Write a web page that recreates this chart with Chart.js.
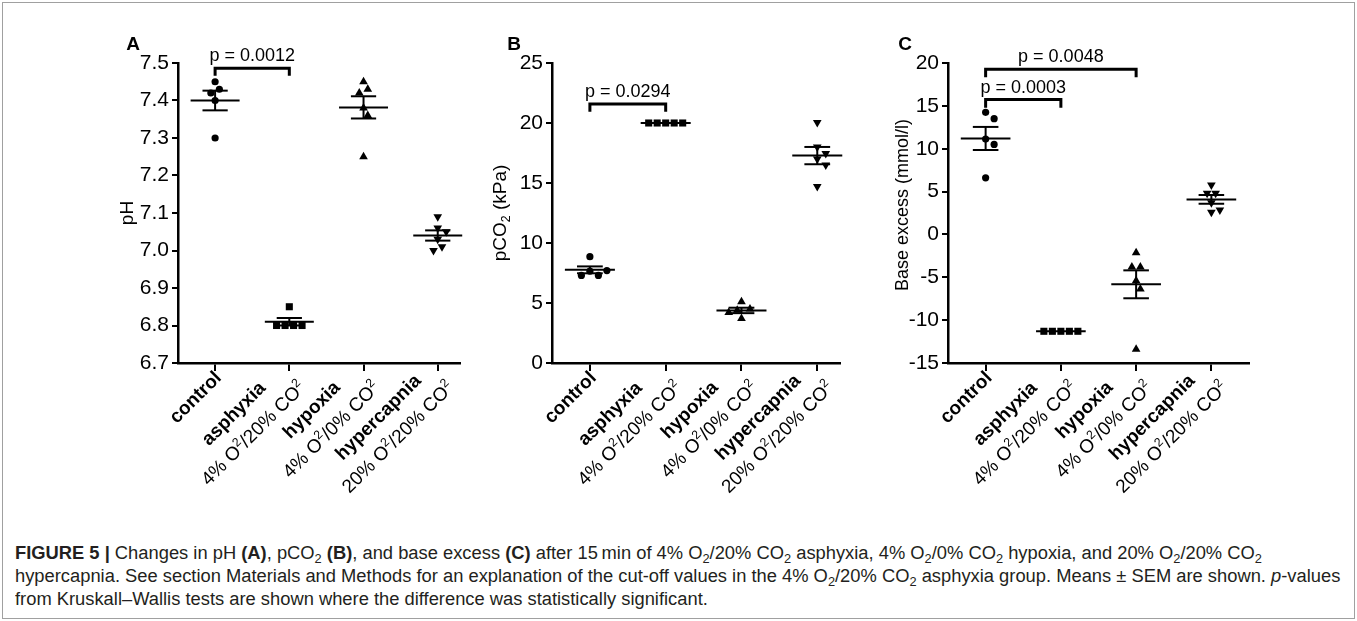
<!DOCTYPE html>
<html>
<head>
<meta charset="utf-8">
<script src="https://cdn.jsdelivr.net/npm/chart.js@4"></script>
<style>
  html, body { margin: 0; padding: 0; background: #fff; }
  body { width: 1357px; height: 621px; position: relative; overflow: hidden; font-family: "Liberation Sans", Arial, sans-serif; }
  #frame { position: absolute; left: 2px; top: 2px; width: 1351px; height: 615px; border: 1px solid #a0a0a0; }
  .panel { position: absolute; top: 0; height: 530px; }
  #caption { position: absolute; left: 15px; top: 542px; font-family: "Liberation Sans Narrow", "Liberation Sans", Arial, sans-serif; font-size: 18px; line-height: 23px; color: #231f20; white-space: nowrap; transform-origin: 0 0; }
  #caption sub { font-size: 70%; vertical-align: -0.3em; line-height: 0; }
</style>
</head>
<body>
<div id="frame"></div>
<div class="panel" id="wrapA"><canvas id="chartA"></canvas></div>
<div class="panel" id="wrapB"><canvas id="chartB"></canvas></div>
<div class="panel" id="wrapC"><canvas id="chartC"></canvas></div>
<div id="caption">
  <div id="cap1"><b>FIGURE 5 |</b> Changes in pH <b>(A)</b>, pCO<sub>2</sub> <b>(B)</b>, and base excess <b>(C)</b> after 15&thinsp;min of 4% O<sub>2</sub>/20% CO<sub>2</sub> asphyxia, 4% O<sub>2</sub>/0% CO<sub>2</sub> hypoxia, and 20% O<sub>2</sub>/20% CO<sub>2</sub></div>
  <div id="cap2">hypercapnia. See section Materials and Methods for an explanation of the cut-off values in the 4% O<sub>2</sub>/20% CO<sub>2</sub> asphyxia group. Means ± SEM are shown. <i>p</i>-values</div>
  <div id="cap3">from Kruskall–Wallis tests are shown where the difference was statistically significant.</div>
</div>
<script>
// groepen en labels
const groups = ['control', 'asphyxia', 'hypoxia', 'hypercapnia'];
const gasLabels = ['', '4% O₂/20% CO₂', '4% O₂/0% CO₂', '20% O₂/20% CO₂'];

// pH (A)
const phControl = [7.45, 7.43, 7.42, 7.40, 7.30];
const phAsphyxia = [6.85, 6.80, 6.80, 6.80, 6.80];
const phHypoxia = [7.45, 7.43, 7.42, 7.38, 7.36, 7.25];
const phHypercapnia = [7.09, 7.06, 7.05, 7.03, 7.01, 7.00];
const phTicks = [6.7, 6.8, 6.9, 7.0, 7.1, 7.2, 7.3, 7.4, 7.5];

// pCO2 (B)
const pco2Control = [8.86, 7.65, 7.30, 7.30, 7.70];
const pco2Asphyxia = [20, 20, 20, 20, 20];
const pco2Hypoxia = [5.1, 4.5, 4.4, 4.2, 3.7];
const pco2Hypercapnia = [20.05, 18.0, 17.45, 17.0, 16.5, 14.7];
const pco2Ticks = [0, 5, 10, 15, 20, 25];

// base excess (C)
const beControl = [14.25, 13.5, 11.13, 10.5, 6.6];
const beAsphyxia = [-11.3, -11.3, -11.3, -11.3, -11.3];
const beHypoxia = [-2.15, -3.8, -3.8, -5.4, -6.37, -13.4];
const beHypercapnia = [5.78, 4.8, 4.8, 3.7, 2.6, 2.85];
const beTicks = [-15, -10, -5, 0, 5, 10, 15, 20];

// p-waarden
const pLabelsA = ['p = 0.0012'];
const pPairsA = [[0, 1]];
const pLevelsA = [[7.486, 7.466]];
const pLabelsB = ['p = 0.0294'];
const pPairsB = [[0, 1]];
const pLevelsB = [[21.58, 20.94]];
const pLabelsC = ['p = 0.0003', 'p = 0.0048'];
const pPairsC = [[0, 1], [0, 2]];
const pLevelsC = [[15.74, 14.77], [19.26, 18.35]];

const FONT = '"Liberation Sans", Arial, sans-serif';
const pointStyles = ['circle', 'rect', 'triangle', 'triangle'];
const pointRot = [0, 0, 0, 180];
const pointRad = [3.6, 5, 5, 5];

// tekst met subscript/superscript 2
function richWidth(ctx, text, weight, size) {
  const parts = text.split('₂');
  let w = 0;
  parts.forEach((p, k) => {
    ctx.font = `${weight} ${size}px ${FONT}`;
    w += ctx.measureText(p).width;
    if (k < parts.length - 1) {
      ctx.font = `${weight} ${size * 0.65}px ${FONT}`;
      w += ctx.measureText('2').width;
    }
  });
  return w;
}

function drawRich(ctx, text, x, y, weight, size, shift) {
  const parts = text.split('₂');
  let cx = x;
  parts.forEach((p, k) => {
    ctx.font = `${weight} ${size}px ${FONT}`;
    ctx.fillText(p, cx, y);
    cx += ctx.measureText(p).width;
    if (k < parts.length - 1) {
      ctx.font = `${weight} ${size * 0.65}px ${FONT}`;
      ctx.fillText('2', cx, y + size * shift);
      cx += ctx.measureText('2').width;
    }
  });
}

// beeswarm spreiding (in pixels, omgerekend naar categorie-eenheden)
function swarm(vals, ppv, ppc, d) {
  const placed = [];
  const offs = vals.map((v) => {
    const py = v * ppv;
    for (let k = 0; k < 40; k++) {
      const cand = (k % 2 ? 1 : -1) * Math.ceil(k / 2) * d / 2;
      if (placed.every((p) => Math.hypot(p.x - cand, p.y - py) >= d - 0.01)) {
        placed.push({ x: cand, y: py });
        return cand;
      }
    }
    return 0;
  });
  // gelijke waarden centreren
  const seen = {};
  vals.forEach((v, k) => { (seen[v] = seen[v] || []).push(k); });
  Object.values(seen).forEach((idx) => {
    if (idx.length < 2) return;
    const m = idx.reduce((a, k) => a + offs[k], 0) / idx.length;
    idx.forEach((k) => { offs[k] -= m; });
  });
  return offs.map((o) => o / ppc);
}

const dotplot = {
  id: 'dotplot',
  afterDatasetsDraw(chart, args, opts) {
    const { ctx } = chart;
    const x = chart.scales.x, y = chart.scales.y;
    const line = (x0, x1, y0, y1) => {
      ctx.beginPath();
      ctx.moveTo(x.getPixelForValue(x0), y.getPixelForValue(y0));
      ctx.lineTo(x.getPixelForValue(x1), y.getPixelForValue(y1));
      ctx.stroke();
    };
    ctx.save();
    ctx.strokeStyle = '#000';
    ctx.lineWidth = 2;
    opts.series.forEach((vals, i) => {
      const n = vals.length;
      const m = vals.reduce((a, b) => a + b, 0) / n;
      const sd = Math.sqrt(vals.reduce((a, b) => a + (b - m) ** 2, 0) / (n - 1));
      const sem = sd / Math.sqrt(n);
      line(i - 0.33, i + 0.33, m, m);
      if (sem > 1e-9) {
        line(i, i, m - sem, m + sem);
        line(i - 0.17, i + 0.17, m + sem, m + sem);
        line(i - 0.17, i + 0.17, m - sem, m - sem);
      }
    });
    ctx.restore();
  },
  afterDraw(chart, args, opts) {
    const { ctx, chartArea } = chart;
    const x = chart.scales.x, y = chart.scales.y;
    ctx.save();
    ctx.fillStyle = '#000';
    ctx.strokeStyle = '#000';

    // p-waarde haken
    opts.pLabels.forEach((lab, k) => {
      const [a, b] = opts.pPairs[k];
      const [top, foot] = opts.pLevels[k];
      const xa = x.getPixelForValue(a), xb = x.getPixelForValue(b);
      const yt = y.getPixelForValue(top), yf = y.getPixelForValue(foot);
      ctx.lineWidth = 3;
      ctx.beginPath();
      ctx.moveTo(xa, yf);
      ctx.lineTo(xa, yt);
      ctx.lineTo(xb, yt);
      ctx.lineTo(xb, yf);
      ctx.stroke();
      ctx.font = `18px ${FONT}`;
      ctx.textAlign = 'center';
      ctx.textBaseline = 'alphabetic';
      ctx.fillText(lab, (xa + xb) / 2, yt - 7);
    });

    // x-as labels, 45 graden gedraaid
    const size = 19, lh = 28, gap = 6, perp = 11;
    groups.forEach((g, i) => {
      const lines = [{ t: g, w: 'bold' }];
      if (gasLabels[i]) lines.push({ t: gasLabels[i], w: 'normal' });
      const widths = lines.map((l) => richWidth(ctx, l.t, l.w, size));
      const maxW = Math.max(...widths);
      ctx.save();
      ctx.translate(x.getPixelForValue(i), chartArea.bottom);
      ctx.rotate(-Math.PI / 4);
      ctx.textAlign = 'left';
      ctx.textBaseline = 'middle';
      const cx = -(maxW / 2 + gap);
      lines.forEach((l, j) => {
        const ly = perp + (j - (lines.length - 1) / 2) * lh;
        drawRich(ctx, l.t, cx - widths[j] / 2, ly, l.w, size, -0.3);
      });
      ctx.restore();
    });

    // y-as titel
    const midY = (chartArea.top + chartArea.bottom) / 2;
    ctx.save();
    ctx.translate(opts.titleX, midY + opts.titleDy);
    ctx.rotate(-Math.PI / 2);
    ctx.textAlign = 'left';
    ctx.textBaseline = 'middle';
    const tw = richWidth(ctx, opts.title, 'normal', opts.titleSize);
    drawRich(ctx, opts.title, -tw / 2, 0, 'normal', opts.titleSize, 0.3);
    ctx.restore();

    // paneel letter
    ctx.font = `bold 19px ${FONT}`;
    ctx.textAlign = 'center';
    ctx.textBaseline = 'middle';
    ctx.fillText(opts.letter, opts.letterX, 45);
    ctx.restore();
  }
};

function makeChart(id, wrapId, lay, series, ticks, fmt, extra) {
  const wrap = document.getElementById(wrapId);
  wrap.style.left = lay.left + 'px';
  wrap.style.width = (lay.yW + lay.areaW + 6) + 'px';
  const yMin = ticks[0], yMax = ticks[ticks.length - 1];
  const ppv = 300 / (yMax - yMin);
  const ppc = lay.areaW / (lay.xMax + 0.5);

  const datasets = series.map((vals, i) => {
    const offs = swarm(vals, ppv, ppc, 8.5);
    return {
      label: groups[i],
      data: vals.map((v, k) => ({ x: i + offs[k], y: v })),
      pointStyle: pointStyles[i],
      rotation: pointRot[i],
      radius: pointRad[i],
      backgroundColor: '#000',
      borderColor: '#000',
      borderWidth: 0,
    };
  });

  return new Chart(document.getElementById(id), {
    type: 'scatter',
    data: { datasets },
    plugins: [dotplot],
    options: {
      responsive: true,
      maintainAspectRatio: false,
      animation: false,
      layout: { padding: { top: 63, left: 0, right: 6, bottom: 0 } },
      plugins: {
        legend: { display: false },
        tooltip: { enabled: false },
        dotplot: Object.assign({
          series,
          titleX: lay.titleX - lay.left,
          titleDy: lay.titleDy || 0,
          titleSize: lay.titleSize || 19,
          letterX: lay.letterX - lay.left,
        }, extra),
      },
      scales: {
        x: {
          type: 'linear',
          min: -0.5,
          max: lay.xMax,
          afterBuildTicks: (s) => { s.ticks = groups.map((g, i) => ({ value: i })); },
          afterFit: (s) => { s.height = 530 - 363; },
          ticks: { display: false },
          grid: { drawOnChartArea: false, drawTicks: true, tickLength: 8, lineWidth: 2, color: '#000' },
          border: { display: true, color: '#000', width: 2.5 },
        },
        y: {
          type: 'linear',
          min: yMin,
          max: yMax,
          afterBuildTicks: (s) => { s.ticks = ticks.map((v) => ({ value: v })); },
          afterFit: (s) => { s.width = lay.yW; },
          ticks: { color: '#000', padding: 3, font: { family: FONT, size: 21 }, callback: fmt },
          grid: { drawOnChartArea: false, drawTicks: true, tickLength: 6, lineWidth: 2, color: '#000' },
          border: { display: true, color: '#000', width: 2.5 },
        },
      },
    },
  });
}

makeChart('chartA', 'wrapA', { left: 100, yW: 78, areaW: 282, xMax: 3.3, titleX: 128, letterX: 133 },
  [phControl, phAsphyxia, phHypoxia, phHypercapnia], phTicks, (v) => v.toFixed(1),
  { title: 'pH', letter: 'A', pLabels: pLabelsA, pPairs: pPairsA, pLevels: pLevelsA });

makeChart('chartB', 'wrapB', { left: 470, yW: 82, areaW: 288, xMax: 3.3, titleX: 501, letterX: 514 },
  [pco2Control, pco2Asphyxia, pco2Hypoxia, pco2Hypercapnia], pco2Ticks, (v) => String(v),
  { title: 'pCO₂ (kPa)', letter: 'B', pLabels: pLabelsB, pPairs: pPairsB, pLevels: pLevelsB });

makeChart('chartC', 'wrapC', { left: 870, yW: 78, areaW: 301, xMax: 3.5, titleX: 903, titleDy: -8, titleSize: 18, letterX: 905 },
  [beControl, beAsphyxia, beHypoxia, beHypercapnia], beTicks, (v) => String(v),
  { title: 'Base excess (mmol/l)', letter: 'C', pLabels: pLabelsC, pPairs: pPairsC, pLevels: pLevelsC });

// bijschrift passend maken
const cap = document.getElementById('caption');
const w2 = document.getElementById('cap2').scrollWidth;
cap.style.transform = `scaleX(${1325 / w2})`;
</script>
</body>
</html>
